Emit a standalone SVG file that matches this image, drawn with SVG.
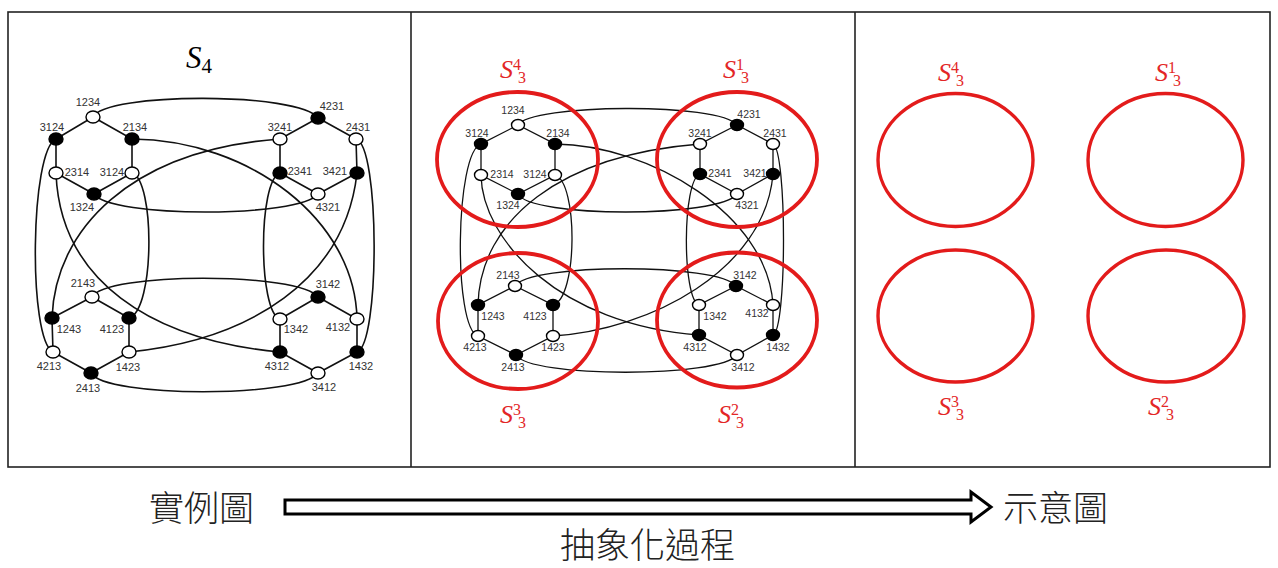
<svg xmlns="http://www.w3.org/2000/svg" width="1278" height="568" viewBox="0 0 1278 568">
<style>
.frame{fill:none;stroke:#222;stroke-width:1.6}
.e{fill:none;stroke:#111;stroke-width:1.6}
.em{fill:none;stroke:#111;stroke-width:1.3}
.b{fill:#000;stroke:#000;stroke-width:1.4}
.w{fill:#fff;stroke:#000;stroke-width:1.4}
.lb{font-family:"Liberation Sans",Arial,sans-serif;font-size:11px;fill:#333;text-anchor:middle}
.lm{font-family:"Liberation Sans",Arial,sans-serif;font-size:10.5px;fill:#333;text-anchor:middle}
.red{fill:none;stroke:#e31b1b;stroke-width:3.8}
.redr{fill:none;stroke:#e31b1b;stroke-width:3.4}
.lab{font-family:"Liberation Serif","Times New Roman",serif}
.S{font-style:italic}
.rt{fill:#e32626}
.cjk{font-family:"Noto Sans CJK TC","Noto Sans CJK SC",sans-serif;font-size:35px;fill:#222;font-weight:300}
</style>

<rect class="frame" x="8" y="12" width="1262" height="455"/>
<line class="frame" x1="411" y1="12" x2="411" y2="467"/>
<line class="frame" x1="855" y1="12" x2="855" y2="467"/>

<!-- ===== Left panel connectors ===== -->
<g id="connectors-left">
  <path class="e" d="M93,117 L56,139 L56,173 L94,194 L132,173 L132,139 Z"/>
  <path class="e" d="M318,118 L280,139 L280,173 L318,194 L357,173 L356,139 Z"/>
  <path class="e" d="M92,297 L52,318 L53,352 L91,373 L129,352 L129,318 Z"/>
  <path class="e" d="M318,297 L280,319 L280,352 L318,373 L357,352 L357,319 Z"/>
  <path class="e" d="M93,117 C105,92 300,92 318,118"/>
  <path class="e" d="M94,194 C110,218 300,218 318,194"/>
  <path class="e" d="M92,297 C105,272 300,272 318,297"/>
  <path class="e" d="M91,373 C105,398 300,398 318,373"/>
  <path class="e" d="M56,139 C30,150 28,340 53,352"/>
  <path class="e" d="M132,173 C155,180 155,310 129,318"/>
  <path class="e" d="M280,173 C258,180 258,312 280,319"/>
  <path class="e" d="M356,139 C380,145 380,345 357,352"/>
  <path class="e" d="M132,139 C250,140 355,220 357,319"/>
  <path class="e" d="M52,318 C55,230 130,150 280,139"/>
  <path class="e" d="M56,173 C60,280 150,340 280,352"/>
  <path class="e" d="M129,352 C250,340 345,280 357,173"/>
</g>

<!-- ===== Middle panel connectors ===== -->
<g id="connectors-middle">
  <path class="em" d="M518,125 L481,144 L481,175 L518,194 L555,175 L555,144 Z"/>
  <path class="em" d="M737,125 L700,144 L700,174 L737,194 L773,174 L773,144 Z"/>
  <path class="em" d="M515,286 L478,305 L478,336 L516,355 L553,336 L553,305 Z"/>
  <path class="em" d="M736,286 L699,305 L699,335 L737,355 L773,335 L773,305 Z"/>
  <path class="em" d="M518,125 C530,104 720,102 737,125"/>
  <path class="em" d="M518,194 C530,218 720,218 737,194"/>
  <path class="em" d="M515,286 C528,263 720,263 736,286"/>
  <path class="em" d="M516,355 C530,378 720,378 737,355"/>
  <path class="em" d="M481,144 C455,152 453,328 478,336"/>
  <path class="em" d="M555,175 C578,182 578,298 553,305"/>
  <path class="em" d="M700,174 C682,180 682,299 699,305"/>
  <path class="em" d="M773,144 C787,150 787,330 773,335"/>
  <path class="em" d="M555,144 C650,145 768,215 773,305"/>
  <path class="em" d="M478,305 C480,220 560,155 700,144"/>
  <path class="em" d="M481,175 C482,240 560,325 699,335"/>
  <path class="em" d="M553,336 C650,330 765,270 773,174"/>
</g>

<!-- ===== Left panel nodes ===== -->
<g id="left-nodes">
  <g id="L1234"><ellipse class="w" cx="93" cy="117" rx="7" ry="6"/><text class="lb" x="88" y="106">1234</text></g>
  <g id="L3124"><ellipse class="b" cx="56" cy="139" rx="7" ry="6"/><text class="lb" x="52" y="131">3124</text></g>
  <g id="L2134"><ellipse class="b" cx="132" cy="139" rx="7" ry="6"/><text class="lb" x="135" y="131">2134</text></g>
  <g id="L2314"><ellipse class="w" cx="56" cy="173" rx="7" ry="6"/><text class="lb" x="77" y="176">2314</text></g>
  <g id="L3124b"><ellipse class="w" cx="132" cy="173" rx="7" ry="6"/><text class="lb" x="112" y="176">3124</text></g>
  <g id="L1324"><ellipse class="b" cx="94" cy="194" rx="7" ry="6"/><text class="lb" x="82" y="211">1324</text></g>

  <g id="L4231"><ellipse class="b" cx="318" cy="118" rx="7" ry="6"/><text class="lb" x="332" y="110">4231</text></g>
  <g id="L3241"><ellipse class="w" cx="280" cy="139" rx="7" ry="6"/><text class="lb" x="280" y="131">3241</text></g>
  <g id="L2431"><ellipse class="w" cx="356" cy="139" rx="7" ry="6"/><text class="lb" x="358" y="131">2431</text></g>
  <g id="L2341"><ellipse class="b" cx="280" cy="173" rx="7" ry="6"/><text class="lb" x="300" y="175">2341</text></g>
  <g id="L3421"><ellipse class="b" cx="357" cy="173" rx="7" ry="6"/><text class="lb" x="335" y="175">3421</text></g>
  <g id="L4321"><ellipse class="w" cx="318" cy="194" rx="7" ry="6"/><text class="lb" x="328" y="211">4321</text></g>

  <g id="L2143"><ellipse class="w" cx="92" cy="297" rx="7" ry="6"/><text class="lb" x="83" y="287">2143</text></g>
  <g id="L1243"><ellipse class="b" cx="52" cy="318" rx="7" ry="6"/><text class="lb" x="69" y="333">1243</text></g>
  <g id="L4123"><ellipse class="b" cx="129" cy="318" rx="7" ry="6"/><text class="lb" x="112" y="333">4123</text></g>
  <g id="L4213"><ellipse class="w" cx="53" cy="352" rx="7" ry="6"/><text class="lb" x="49" y="370">4213</text></g>
  <g id="L1423"><ellipse class="w" cx="129" cy="352" rx="7" ry="6"/><text class="lb" x="128" y="371">1423</text></g>
  <g id="L2413"><ellipse class="b" cx="91" cy="373" rx="7" ry="6"/><text class="lb" x="88" y="392">2413</text></g>

  <g id="L3142"><ellipse class="b" cx="318" cy="297" rx="7" ry="6"/><text class="lb" x="328" y="288">3142</text></g>
  <g id="L1342"><ellipse class="w" cx="280" cy="319" rx="7" ry="6"/><text class="lb" x="296" y="333">1342</text></g>
  <g id="L4132"><ellipse class="w" cx="357" cy="319" rx="7" ry="6"/><text class="lb" x="338" y="331">4132</text></g>
  <g id="L4312"><ellipse class="b" cx="280" cy="352" rx="7" ry="6"/><text class="lb" x="277" y="370">4312</text></g>
  <g id="L1432"><ellipse class="b" cx="357" cy="352" rx="7" ry="6"/><text class="lb" x="361" y="370">1432</text></g>
  <g id="L3412"><ellipse class="w" cx="318" cy="373" rx="7" ry="6"/><text class="lb" x="324" y="391">3412</text></g>
</g>

<!-- ===== Middle panel nodes ===== -->
<g id="middle-nodes">
  <g id="M1234"><ellipse class="w" cx="518" cy="125" rx="6.5" ry="5.5"/><text class="lm" x="513" y="114">1234</text></g>
  <g id="M3124"><ellipse class="b" cx="481" cy="144" rx="6.5" ry="5.5"/><text class="lm" x="477" y="137">3124</text></g>
  <g id="M2134"><ellipse class="b" cx="555" cy="144" rx="6.5" ry="5.5"/><text class="lm" x="558" y="137">2134</text></g>
  <g id="M2314"><ellipse class="w" cx="481" cy="175" rx="6.5" ry="5.5"/><text class="lm" x="502" y="178">2314</text></g>
  <g id="M3124b"><ellipse class="w" cx="555" cy="175" rx="6.5" ry="5.5"/><text class="lm" x="535" y="178">3124</text></g>
  <g id="M1324"><ellipse class="b" cx="518" cy="194" rx="6.5" ry="5.5"/><text class="lm" x="508" y="209">1324</text></g>

  <g id="M4231"><ellipse class="b" cx="737" cy="125" rx="6.5" ry="5.5"/><text class="lm" x="749" y="118">4231</text></g>
  <g id="M3241"><ellipse class="w" cx="700" cy="144" rx="6.5" ry="5.5"/><text class="lm" x="700" y="137">3241</text></g>
  <g id="M2431"><ellipse class="w" cx="773" cy="144" rx="6.5" ry="5.5"/><text class="lm" x="775" y="137">2431</text></g>
  <g id="M2341"><ellipse class="b" cx="700" cy="174" rx="6.5" ry="5.5"/><text class="lm" x="720" y="177">2341</text></g>
  <g id="M3421"><ellipse class="b" cx="773" cy="174" rx="6.5" ry="5.5"/><text class="lm" x="755" y="177">3421</text></g>
  <g id="M4321"><ellipse class="w" cx="737" cy="194" rx="6.5" ry="5.5"/><text class="lm" x="747" y="209">4321</text></g>

  <g id="M2143"><ellipse class="w" cx="515" cy="286" rx="6.5" ry="5.5"/><text class="lm" x="508" y="279">2143</text></g>
  <g id="M1243"><ellipse class="b" cx="478" cy="305" rx="6.5" ry="5.5"/><text class="lm" x="493" y="320">1243</text></g>
  <g id="M4123"><ellipse class="b" cx="553" cy="305" rx="6.5" ry="5.5"/><text class="lm" x="535" y="320">4123</text></g>
  <g id="M4213"><ellipse class="w" cx="478" cy="336" rx="6.5" ry="5.5"/><text class="lm" x="475" y="351">4213</text></g>
  <g id="M1423"><ellipse class="w" cx="553" cy="336" rx="6.5" ry="5.5"/><text class="lm" x="553" y="351">1423</text></g>
  <g id="M2413"><ellipse class="b" cx="516" cy="355" rx="6.5" ry="5.5"/><text class="lm" x="513" y="371">2413</text></g>

  <g id="M3142"><ellipse class="b" cx="736" cy="286" rx="6.5" ry="5.5"/><text class="lm" x="745" y="279">3142</text></g>
  <g id="M1342"><ellipse class="w" cx="699" cy="305" rx="6.5" ry="5.5"/><text class="lm" x="715" y="320">1342</text></g>
  <g id="M4132"><ellipse class="w" cx="773" cy="305" rx="6.5" ry="5.5"/><text class="lm" x="757" y="317">4132</text></g>
  <g id="M4312"><ellipse class="b" cx="699" cy="335" rx="6.5" ry="5.5"/><text class="lm" x="695" y="351">4312</text></g>
  <g id="M1432"><ellipse class="b" cx="773" cy="335" rx="6.5" ry="5.5"/><text class="lm" x="778" y="351">1432</text></g>
  <g id="M3412"><ellipse class="w" cx="737" cy="355" rx="6.5" ry="5.5"/><text class="lm" x="743" y="371">3412</text></g>
</g>

<!-- ===== Middle red clusters ===== -->
<g id="mid-clusters">
  <ellipse class="red" cx="517.5" cy="159.5" rx="80.5" ry="67.5"/>
  <ellipse class="red" cx="737" cy="159.5" rx="80" ry="67.5"/>
  <ellipse class="red" cx="518" cy="321" rx="80" ry="68"/>
  <ellipse class="red" cx="737" cy="320" rx="80" ry="67.5"/>
</g>

<!-- ===== Right panel clusters ===== -->
<g id="right-clusters">
  <ellipse class="redr" cx="955.5" cy="160" rx="77.5" ry="66.5"/>
  <ellipse class="redr" cx="1165.5" cy="160" rx="77.5" ry="66.5"/>
  <ellipse class="redr" cx="955.5" cy="316" rx="77.5" ry="66"/>
  <ellipse class="redr" cx="1166" cy="316" rx="78" ry="66"/>
</g>

<!-- ===== Titles ===== -->
<g id="title-S4">
  <text class="lab" x="186" y="68" fill="#000"><tspan class="S" font-size="31">S</tspan><tspan font-size="21" dy="5">4</tspan></text>
</g>
<g id="labels-mid" class="rt">
  <text class="lab" x="500" y="78"><tspan class="S" font-size="26">S</tspan><tspan font-size="16" dy="-8">4</tspan><tspan font-size="16" x="518" dy="13">3</tspan></text>
  <text class="lab" x="723" y="78"><tspan class="S" font-size="26">S</tspan><tspan font-size="16" dy="-8">1</tspan><tspan font-size="16" x="741" dy="13">3</tspan></text>
  <text class="lab" x="500" y="423"><tspan class="S" font-size="26">S</tspan><tspan font-size="16" dy="-8">3</tspan><tspan font-size="16" x="518" dy="13">3</tspan></text>
  <text class="lab" x="718" y="423"><tspan class="S" font-size="26">S</tspan><tspan font-size="16" dy="-8">2</tspan><tspan font-size="16" x="736" dy="13">3</tspan></text>
</g>
<g id="labels-right" class="rt">
  <text class="lab" x="938" y="81"><tspan class="S" font-size="26">S</tspan><tspan font-size="16" dy="-8">4</tspan><tspan font-size="16" x="956" dy="13">3</tspan></text>
  <text class="lab" x="1155" y="81"><tspan class="S" font-size="26">S</tspan><tspan font-size="16" dy="-8">1</tspan><tspan font-size="16" x="1173" dy="13">3</tspan></text>
  <text class="lab" x="938" y="415"><tspan class="S" font-size="26">S</tspan><tspan font-size="16" dy="-8">3</tspan><tspan font-size="16" x="956" dy="13">3</tspan></text>
  <text class="lab" x="1148" y="415"><tspan class="S" font-size="26">S</tspan><tspan font-size="16" dy="-8">2</tspan><tspan font-size="16" x="1166" dy="13">3</tspan></text>
</g>

<!-- ===== Bottom process arrow ===== -->
<g id="process">
  <path d="M285,500 H971 V492 L991,507 L971,522 V514 H285 Z" fill="#fff" stroke="#000" stroke-width="3" stroke-linejoin="miter"/>
  <text class="cjk" x="149" y="521">實例圖</text>
  <text class="cjk" x="1003" y="521">示意圖</text>
  <text class="cjk" x="560" y="558">抽象化過程</text>
</g>
</svg>
